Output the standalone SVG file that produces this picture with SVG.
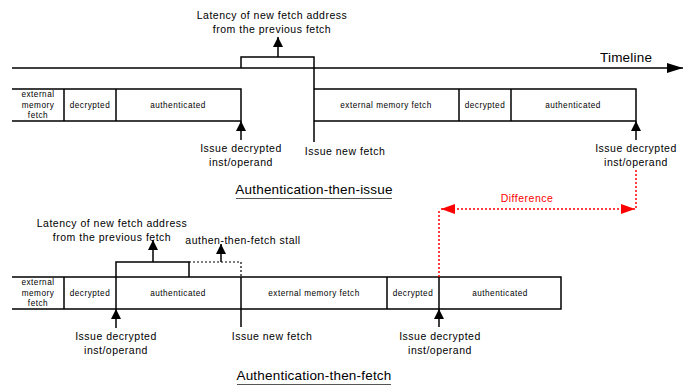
<svg xmlns="http://www.w3.org/2000/svg" width="688" height="387" viewBox="0 0 688 387">
<defs>
<marker id="ah" viewBox="0 0 10 10" refX="10" refY="5" markerWidth="10" markerHeight="10" markerUnits="userSpaceOnUse" orient="auto"><path d="M0,0 L10,5 L0,10 z" fill="#000"/></marker>
<marker id="ahl" viewBox="0 0 16 10" refX="16" refY="5" markerWidth="16" markerHeight="10" markerUnits="userSpaceOnUse" orient="auto"><path d="M0,0 L16,5 L0,10 z" fill="#000"/></marker>
<marker id="ar" viewBox="0 0 14 10" refX="14" refY="5" markerWidth="14" markerHeight="10" markerUnits="userSpaceOnUse" orient="auto-start-reverse"><path d="M0,0 L14,5 L0,10 z" fill="#f00"/></marker>
</defs>
<style>
text{font-family:"Liberation Sans",Arial,sans-serif;fill:#000}
.s{font-size:8.2px;letter-spacing:0.5px}
.l{font-size:10.5px;letter-spacing:0.5px}
.t{font-size:13.5px;letter-spacing:0.2px}
.box{fill:#fff;stroke:#000;stroke-width:1.5}
.ln{stroke:#000;stroke-width:1.5;fill:none}
.dl{stroke:#000;stroke-width:1.2;fill:none;stroke-dasharray:2,2}
.rd{stroke:#f00;stroke-width:1.5;fill:none;stroke-dasharray:2,2}
</style>
<rect width="688" height="387" fill="#fff"/>

<g id="timeline">
<line class="ln" x1="12" y1="68" x2="683" y2="68" marker-end="url(#ahl)"/>
<text class="t" x="600" y="62">Timeline</text>
</g>

<g id="top-fetch1">
<path class="ln" d="M12,89 H241 V121 H12"/>
<line class="ln" x1="64" y1="89" x2="64" y2="121"/>
<line class="ln" x1="116" y1="89" x2="116" y2="121"/>
<text class="s" text-anchor="middle" x="38" y="97">external</text>
<text class="s" text-anchor="middle" x="38" y="108">memory</text>
<text class="s" text-anchor="middle" x="38" y="118">fetch</text>
<text class="s" text-anchor="middle" x="90" y="108">decrypted</text>
<text class="s" text-anchor="middle" x="178" y="108">authenticated</text>
</g>

<g id="top-fetch2">
<path class="ln" d="M314,89 H636 V121 H314"/>
<line class="ln" x1="459" y1="89" x2="459" y2="121"/>
<line class="ln" x1="511" y1="89" x2="511" y2="121"/>
<text class="s" text-anchor="middle" x="386" y="108">external memory fetch</text>
<text class="s" text-anchor="middle" x="485" y="108">decrypted</text>
<text class="s" text-anchor="middle" x="573" y="108">authenticated</text>
</g>

<g id="top-labels">
<text class="l" text-anchor="middle" x="272" y="19">Latency of new fetch address</text>
<text class="l" text-anchor="middle" x="272" y="33">from the previous fetch</text>
<text class="l" text-anchor="middle" x="241" y="152">Issue decrypted</text>
<text class="l" text-anchor="middle" x="241" y="166">inst/operand</text>
<text class="l" text-anchor="middle" x="345" y="155">Issue new fetch</text>
<text class="l" text-anchor="middle" x="636" y="152">Issue decrypted</text>
<text class="l" text-anchor="middle" x="636" y="166">inst/operand</text>
<text class="t" text-anchor="middle" x="314" y="194">Authentication-then-issue</text>
<line x1="236" y1="198.5" x2="392" y2="198.5" stroke="#555" stroke-width="1.2"/>
</g>

<g id="bottom-fetch">
<path class="ln" d="M12,277 H561 V309 H12"/>
<line class="ln" x1="64" y1="277" x2="64" y2="309"/>
<line class="ln" x1="116" y1="277" x2="116" y2="309"/>
<line class="ln" x1="241" y1="277" x2="241" y2="309"/>
<line class="ln" x1="387" y1="277" x2="387" y2="309"/>
<line class="ln" x1="439" y1="277" x2="439" y2="309"/>
<text class="s" text-anchor="middle" x="38" y="285">external</text>
<text class="s" text-anchor="middle" x="38" y="296">memory</text>
<text class="s" text-anchor="middle" x="38" y="306">fetch</text>
<text class="s" text-anchor="middle" x="90" y="296">decrypted</text>
<text class="s" text-anchor="middle" x="178" y="296">authenticated</text>
<text class="s" text-anchor="middle" x="314" y="296">external memory fetch</text>
<text class="s" text-anchor="middle" x="413" y="296">decrypted</text>
<text class="s" text-anchor="middle" x="500" y="296">authenticated</text>
</g>

<g id="bottom-labels">
<text class="l" text-anchor="middle" x="112" y="227">Latency of new fetch address</text>
<text class="l" text-anchor="middle" x="112" y="241">from the previous fetch</text>
<text class="l" text-anchor="middle" x="243" y="244">authen-then-fetch stall</text>
<text class="l" text-anchor="middle" x="116" y="340">Issue decrypted</text>
<text class="l" text-anchor="middle" x="116" y="354">inst/operand</text>
<text class="l" text-anchor="middle" x="272" y="340">Issue new fetch</text>
<text class="l" text-anchor="middle" x="440" y="340">Issue decrypted</text>
<text class="l" text-anchor="middle" x="440" y="354">inst/operand</text>
<text class="t" text-anchor="middle" x="314" y="380">Authentication-then-fetch</text>
<line x1="237" y1="384.5" x2="391" y2="384.5" stroke="#555" stroke-width="1.2"/>
<text class="l" text-anchor="middle" x="527" y="202" style="fill:#f00">Difference</text>
</g>

<g id="connectors">
<path class="ln" d="M241,68 V57 H314 V142"/>
<line class="ln" x1="278" y1="57" x2="278" y2="37" marker-end="url(#ah)"/>
<line class="ln" x1="241" y1="140" x2="241" y2="121" marker-end="url(#ah)"/>
<line class="ln" x1="636" y1="140" x2="636" y2="121" marker-end="url(#ah)"/>
<path class="ln" d="M116,277 V262 H189 V277"/>
<line class="ln" x1="153" y1="262" x2="153" y2="240" marker-end="url(#ah)"/>
<path class="dl" d="M189,262 H241 V277"/>
<line class="ln" x1="221" y1="262" x2="221" y2="244" marker-end="url(#ah)"/>
<line class="ln" x1="116" y1="328" x2="116" y2="309" marker-end="url(#ah)"/>
<line class="ln" x1="241" y1="309" x2="241" y2="327"/>
<line class="ln" x1="439" y1="327" x2="439" y2="309" marker-end="url(#ah)"/>
<path class="rd" d="M636,170 V209"/>
<path class="rd" d="M439,277 V209"/>
<line class="rd" x1="441" y1="209" x2="635" y2="209" marker-start="url(#ar)" marker-end="url(#ar)"/>
</g>
</svg>
